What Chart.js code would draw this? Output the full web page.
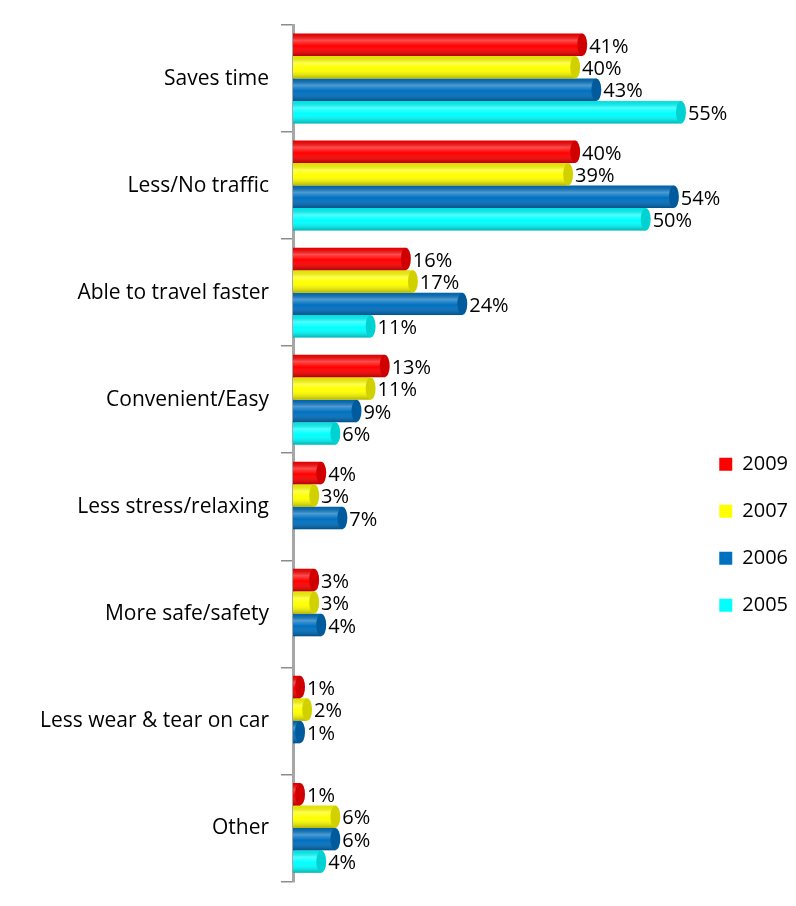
<!DOCTYPE html>
<html>
<head>
<meta charset="utf-8">
<script src="https://cdn.jsdelivr.net/npm/chart.js@4.4.1/dist/chart.umd.min.js"></script>
<style>
html,body{margin:0;padding:0;background:#fff;}
#wrap{width:796px;height:906px;position:relative;}
</style>
</head>
<body>
<div id="wrap"><canvas id="c" width="796" height="906"></canvas></div>
<script>
const categories = ['Saves time','Less/No traffic','Able to travel faster','Convenient/Easy','Less stress/relaxing','More safe/safety','Less wear & tear on car','Other'];
const seriesNames = ['2009','2007','2006','2005'];
const values2009 = [41,40,16,13,4,3,1,1];
const values2007 = [40,39,17,11,3,3,2,6];
const values2006 = [43,54,24,9,7,4,1,6];
const values2005 = [55,50,11,6,null,null,null,4];
const seriesColors = ['#FF0000','#FFFF00','#0070C0','#00FFFF'];

const FONT = '"Open Sans", "Noto Sans", sans-serif';

const cylinderPlugin = {
  id: 'cylinder',
  afterDatasetsDraw(chart) {
    const ctx = chart.ctx;
    chart.data.datasets.forEach((ds, di) => {
      const meta = chart.getDatasetMeta(di);
      if (meta.hidden) return;
      meta.data.forEach((bar, i) => {
        const v = ds.data[i];
        if (v === null || v === undefined) return;
        const p = bar.getProps(['x','y','base','height'], true);
        const top = p.y - p.height/2, h = p.height;
        const left = Math.min(p.base, p.x), w = Math.abs(p.x - p.base);
        ctx.save();
        const g = ctx.createLinearGradient(0, top, 0, top + h);
        g.addColorStop(0, 'rgba(0,0,0,0.10)');
        g.addColorStop(0.3, 'rgba(255,255,255,0.30)');
        g.addColorStop(0.55, 'rgba(255,255,255,0)');
        g.addColorStop(1, 'rgba(0,0,0,0.30)');
        ctx.fillStyle = g;
        ctx.fillRect(left, top, w, h);
        ctx.beginPath();
        ctx.ellipse(p.x, p.y, Math.max(2, h*0.22), h/2, 0, 0, Math.PI*2);
        ctx.fillStyle = ds.backgroundColor;
        ctx.fill();
        ctx.fillStyle = 'rgba(0,0,0,0.18)';
        ctx.fill();
        ctx.restore();
        ctx.save();
        ctx.fillStyle = '#000';
        ctx.font = '20px ' + FONT;
        ctx.textBaseline = 'middle';
        ctx.textAlign = 'left';
        ctx.fillText(v + '%', p.x + h*0.22 + 2, p.y + 2);
        ctx.restore();
      });
    });
  }
};

const allSeries = [values2009, values2007, values2006, values2005];
new Chart(document.getElementById('c'), {
  type: 'bar',
  data: {
    labels: categories,
    datasets: seriesNames.map((n, k) => ({
      label: n,
      data: allSeries[k],
      backgroundColor: seriesColors[k],
      borderWidth: 0,
      barPercentage: 1.0,
      categoryPercentage: 0.84
    }))
  },
  options: {
    indexAxis: 'y',
    responsive: false,
    animation: false,
    layout: { padding: { top: 25, bottom: 1, left: 0, right: -2 } },
    scales: {
      x: { display: false, min: 0, max: 56.6 },
      y: {
        afterFit(scale) { scale.width = 293; },
        border: { display: true, color: '#A6A6A6', width: 3 },
        grid: { display: true, drawOnChartArea: false, tickLength: 12, color: '#8C8C8C', lineWidth: 1.5, offset: true },
        ticks: { color: '#000', font: { size: 21, family: FONT }, padding: 12 }
      }
    },
    plugins: {
      tooltip: { enabled: false },
      legend: {
        position: 'right',
        align: 'center',
        title: { display: true, text: ' ', padding: { top: 125, bottom: 0 } },
        labels: { boxWidth: 13, boxHeight: 13, padding: 27, color: '#000', font: { size: 20, family: FONT } }
      }
    }
  },
  plugins: [cylinderPlugin]
});
</script>
</body>
</html>
